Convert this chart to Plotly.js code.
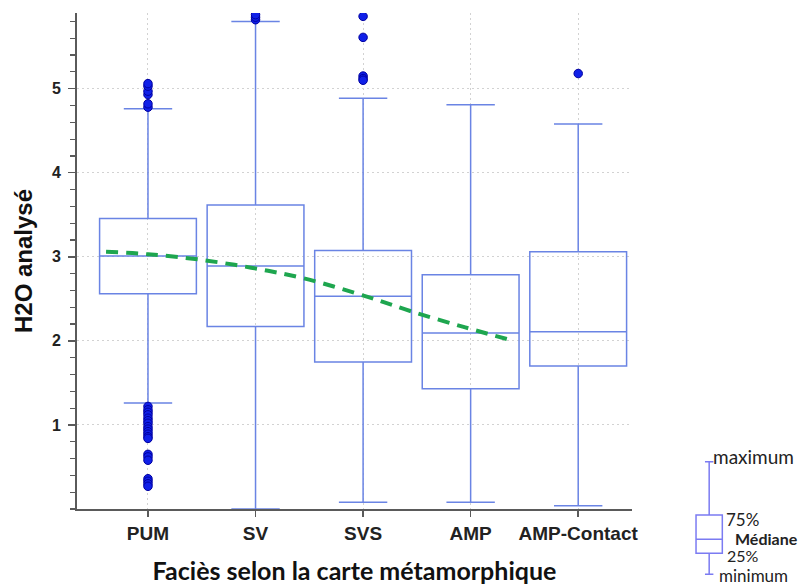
<!DOCTYPE html>
<html>
<head>
<meta charset="utf-8">
<script src="https://cdn.plot.ly/plotly-3.0.1.min.js"></script>
<style>html,body{margin:0;padding:0;background:#fff;}#chart{width:803px;height:587px;}</style>
</head>
<body>
<div id="chart"></div>
<script>
// ---- data ----
const categories = ['PUM', 'SV', 'SVS', 'AMP', 'AMP-Contact'];
const catPos = [0, 1, 2, 3, 4];
const q1 = [2.56, 2.17, 1.75, 1.43, 1.70];
const median = [3.01, 2.89, 2.53, 2.095, 2.107];
const q3 = [3.457, 3.615, 3.076, 2.786, 3.06];
const lowerWhisker = [1.26, 0.0, 0.08, 0.08, 0.04];
const upperWhisker = [4.76, 5.80, 4.886, 4.81, 4.58];

const outlierX = [0, 0, 0, 0, 0, 0,
  0, 0, 0, 0, 0, 0, 0, 0, 0, 0, 0, 0, 0, 0, 0, 0, 0, 0, 0, 0,
  1, 1, 1,
  2, 2, 2, 2, 2,
  4];
const outlierY = [4.78, 4.82, 4.93, 4.97, 5.03, 5.06,
  1.22, 1.18, 1.15, 1.12, 1.08, 1.05, 1.02, 0.98, 0.95, 0.92, 0.89, 0.86, 0.84,
  0.65, 0.62, 0.58, 0.36, 0.33, 0.30, 0.27,
  5.82, 5.85, 5.88,
  5.86, 5.61, 5.15, 5.12, 5.10,
  5.18];

const trendX = [-0.39, 0, 0.46, 0.96, 1.46, 2.05, 2.45, 2.95, 3.40];
const trendY = [3.06, 3.03, 2.97, 2.87, 2.74, 2.52, 2.35, 2.16, 2.00];

const yTicks = [1, 2, 3, 4, 5];

// legend key box (schematic)
const keyStats = {q1: 2.136, median: 3.256, q3: 5.2, lower: 0.456, upper: 9.464};
const keyLabels = ['maximum', '75%', 'Médiane', '25%', 'minimum'];
const keyLabelX = [1.70, 1.27, 2.18, 1.27, 1.68];
const keyLabelY = [9.85, 4.85, 3.3, 1.95, 0.4];
const keyLabelSize = [19, 17, 16, 16, 17];
const keyLabelBold = [false, false, true, false, false];

// ---- traces ----
const boxColor = '#6a84e4';
const traces = [
  {
    type: 'box', x: catPos, q1: q1, median: median, q3: q3,
    lowerfence: lowerWhisker, upperfence: upperWhisker,
    width: 0.9, whiskerwidth: 0.5, boxpoints: false,
    line: {color: boxColor, width: 1.5}, fillcolor: 'rgba(0,0,0,0)',
    hoverinfo: 'skip'
  },
  {
    type: 'scatter', mode: 'markers', x: outlierX, y: outlierY,
    marker: {color: '#1020e8', size: 8.5, line: {color: '#0000a0', width: 1}},
    hoverinfo: 'skip'
  },
  {
    type: 'scatter', mode: 'lines', x: trendX, y: trendY,
    line: {color: '#1ea64f', width: 4, dash: '12px,8px', shape: 'spline'},
    hoverinfo: 'skip'
  },
  {
    type: 'box', x: [0], q1: [keyStats.q1], median: [keyStats.median], q3: [keyStats.q3],
    lowerfence: [keyStats.lower], upperfence: [keyStats.upper],
    width: 1, whiskerwidth: 0.32, boxpoints: false,
    line: {color: '#7b7bf2', width: 1.5}, fillcolor: 'rgba(0,0,0,0)',
    xaxis: 'x2', yaxis: 'y2', hoverinfo: 'skip'
  }
];

const annotations = keyLabels.map((t, i) => ({
  xref: 'x2', yref: 'y2', x: keyLabelX[i], y: keyLabelY[i],
  text: keyLabelBold[i] ? '<b>' + t + '</b>' : t,
  showarrow: false, xanchor: 'center', yanchor: 'middle', borderpad: 0,
  font: {family: 'Lato, sans-serif', size: keyLabelSize[i], color: '#222'}
}));

const axisCol = '#5a5a5a';
const gridCol = '#d2d2d2';
const layout = {
  width: 803, height: 587,
  margin: {l: 77, r: 10, t: 13, b: 5},
  paper_bgcolor: '#fff', plot_bgcolor: '#fff',
  showlegend: false,
  xaxis: {
    domain: [0, 0.7751], range: [-0.66, 4.50],
    tickmode: 'array', tickvals: catPos, ticktext: categories,
    ticks: 'outside', ticklen: 6, tickwidth: 1.5, tickcolor: axisCol,
    tickfont: {family: '"Liberation Sans", Arial, sans-serif', size: 19, color: '#222', weight: 'bold'},
    showline: true, linecolor: axisCol, linewidth: 2,
    showgrid: true, gridcolor: gridCol, griddash: '2px,3px', gridwidth: 1,
    zeroline: false,
    title: {text: 'Faciès selon la carte métamorphique', standoff: 20,
      font: {family: 'Lato, sans-serif', size: 25, color: '#111', weight: 'bold'}}
  },
  yaxis: {
    domain: [0.1283, 1], range: [0, 5.9],
    tickmode: 'array', tickvals: yTicks,
    ticks: 'outside', ticklen: 7, tickwidth: 1.5, tickcolor: axisCol,
    ticklabelstandoff: 4,
    minor: {tickmode: 'linear', tick0: 0, dtick: 0.2, ticks: 'outside', ticklen: 5, tickwidth: 1.2, tickcolor: axisCol, showgrid: false},
    tickfont: {family: '"Liberation Sans", Arial, sans-serif', size: 16, color: '#222', weight: 'bold'},
    showline: true, linecolor: axisCol, linewidth: 2,
    showgrid: true, gridcolor: gridCol, griddash: '2px,3px', gridwidth: 1,
    zeroline: false,
    title: {text: 'H2O analysé', standoff: 12,
      font: {family: '"Liberation Sans", Arial, sans-serif', size: 24, color: '#111', weight: 'bold'}}
  },
  xaxis2: {domain: [0.8462, 0.9931], range: [-1, 3], anchor: 'y2', visible: false, fixedrange: true},
  yaxis2: {domain: [0.0035, 0.2232], range: [0, 10], anchor: 'x2', visible: false, fixedrange: true},
  annotations: annotations
};

Plotly.newPlot('chart', traces, layout, {staticPlot: true, displayModeBar: false});
</script>
</body>
</html>
